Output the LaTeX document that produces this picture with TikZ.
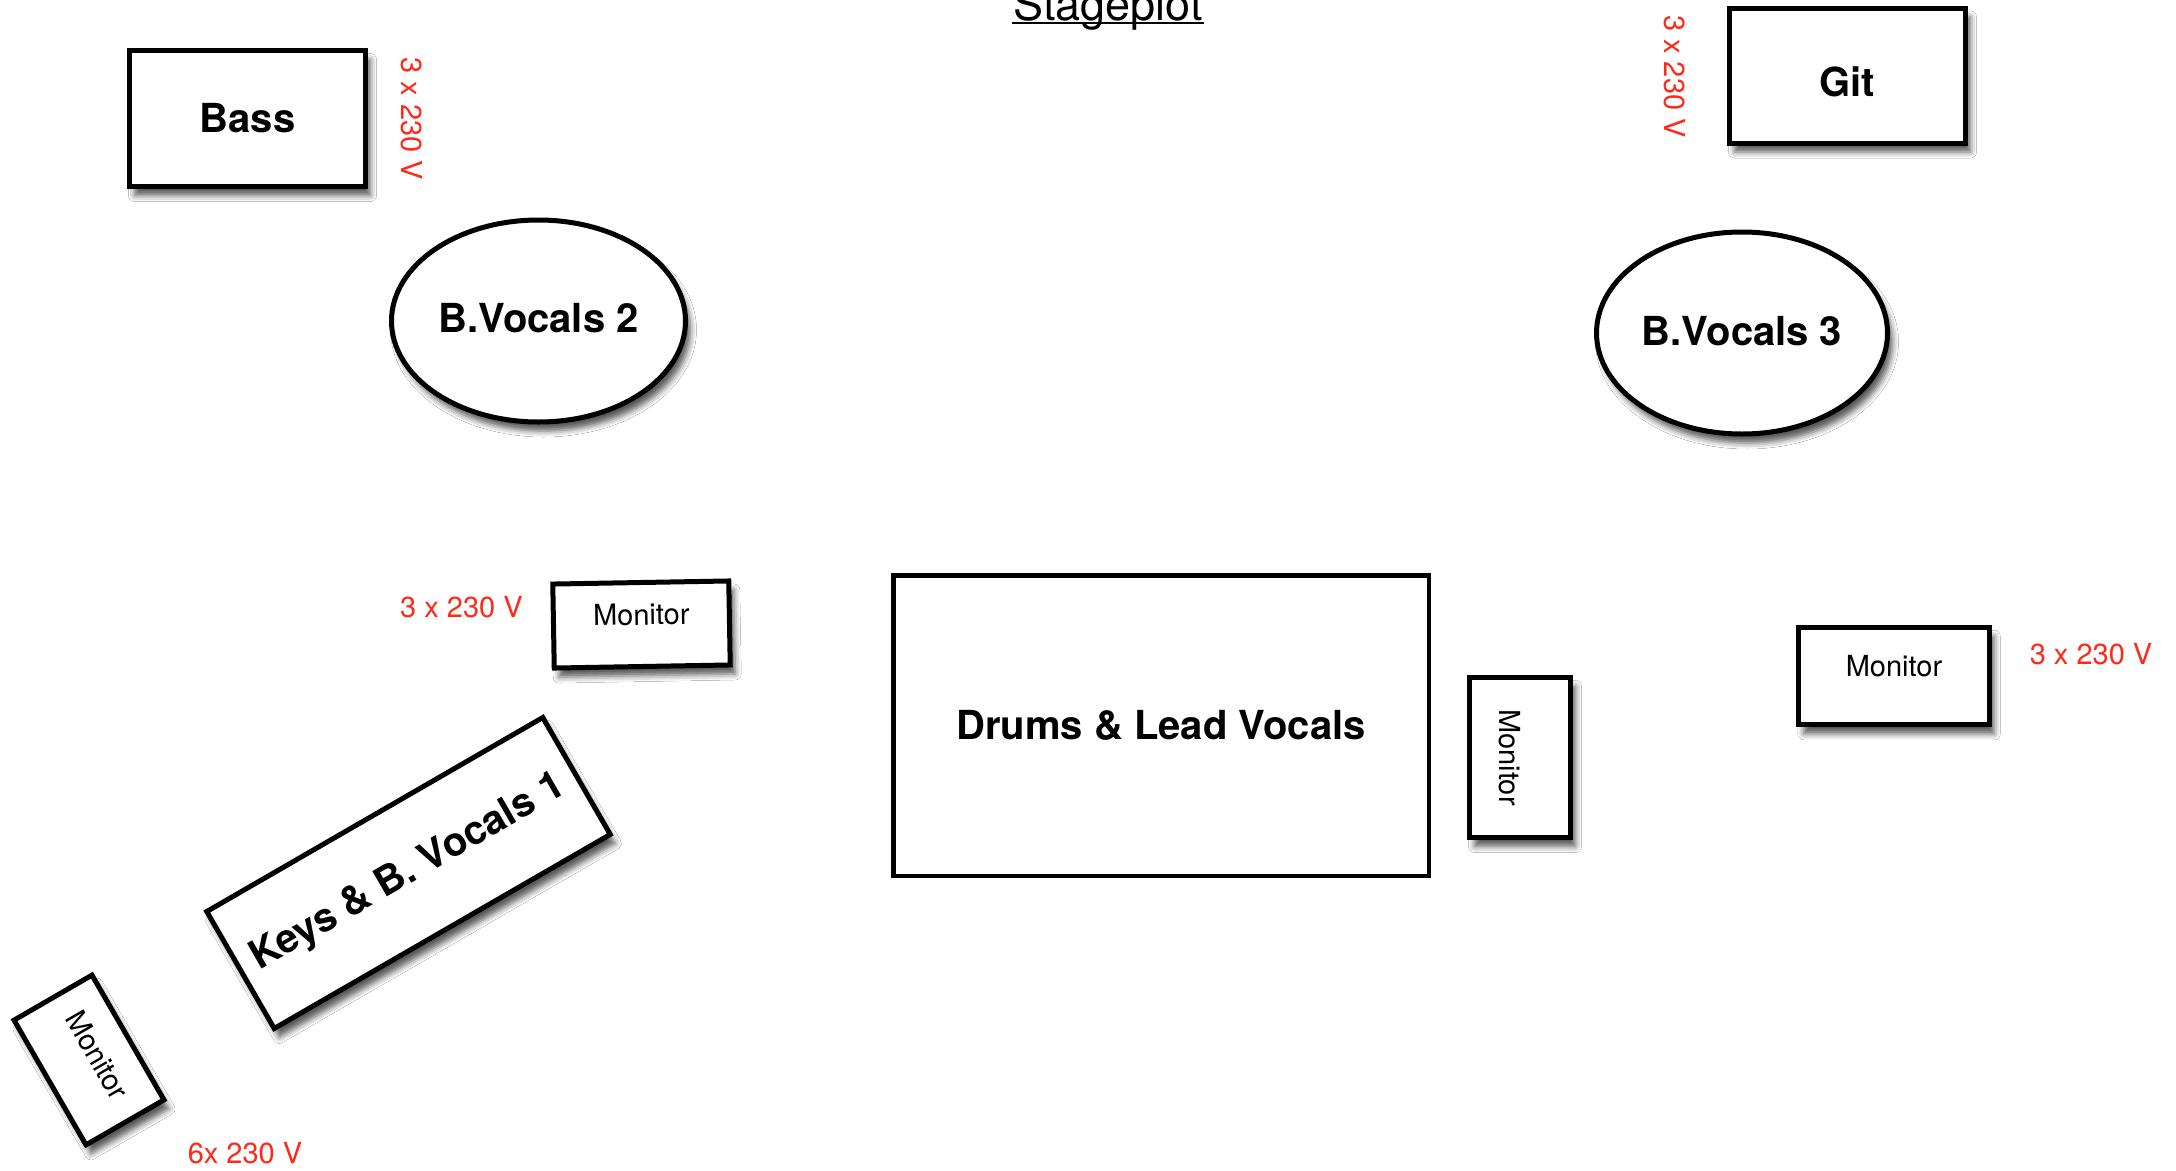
\documentclass[tikz,border=0pt]{standalone}
\usepackage{fontspec}
\setmainfont{TeX Gyre Heros}
\usetikzlibrary{shapes.geometric,shadows.blur}
\definecolor{plotred}{RGB}{255,40,25}
\tikzset{
  box/.style={draw=black, fill=white, line width=5pt, rectangle, inner sep=0pt,
    blur shadow={shadow xshift=5pt, shadow yshift=-9pt, shadow blur radius=6pt, shadow opacity=65}},
  oval/.style={box, ellipse},
  biglabel/.style={font=\fontsize{40}{45}\selectfont\bfseries},
  monlabel/.style={font=\fontsize{29}{33}\selectfont},
  power/.style={text=plotred, font=\fontsize{29}{33}\selectfont, inner sep=0pt},
  monbox/.style={box, monlabel, text depth=20pt},
}
\begin{document}
\begin{tikzpicture}[x=1pt, y=-1pt]
\fill[white] (0,0) rectangle (2176,1170);
\useasboundingbox (0,0) rectangle (2176,1170);

% title
\node[anchor=base, inner sep=0pt, font=\fontsize{45}{50}\selectfont] (title) at (1108,20) {Stageplot};
\draw[line width=2pt] ([yshift=-3.3pt,xshift=-1pt]title.base west) -- ([yshift=-3.3pt,xshift=1pt]title.base east);

% instruments
\node[box, biglabel, minimum width=236pt, minimum height=136pt] (bass) at (247.5,118.5) {Bass};
\node[power, rotate=-90] (pbass) at (411.5,119) {3 x 230 V};

\node[box, biglabel, text height=42pt, minimum width=236pt, minimum height=135pt] (git) at (1847.5,75.5) {Git};
\node[power, rotate=-90] (pgit) at (1675,76.5) {3 x 230 V};

\node[oval, biglabel, text depth=7pt, minimum width=294pt, minimum height=202pt] (bv2) at (538.5,321) {B.Vocals 2};
\node[oval, biglabel, text depth=5pt, minimum width=291pt, minimum height=202pt] (bv3) at (1742,333) {B.Vocals 3};

\node[draw=black, fill=white, line width=4.5pt, inner sep=0pt, biglabel,
      minimum width=535.5pt, minimum height=300.5pt] (drums) at (1161,725.5) {Drums \& Lead Vocals};

\node[box, biglabel, rotate=30, minimum width=388pt, minimum height=135pt] (keys) at (408.5,873) {Keys \& B. Vocals 1};

% monitors
\node[monbox, rotate=1, minimum width=176pt, minimum height=84pt] (mon1) at (641.5,624.5) {Monitor};
\node[power] (pmon1) at (461.5,607) {3 x 230 V};

\node[box, monlabel, rotate=-90, text height=41pt, minimum width=160pt, minimum height=101pt] (mon2) at (1520,757.5) {Monitor};

\node[monbox, minimum width=190.5pt, minimum height=97.5pt] (mon3) at (1894,676) {Monitor};
\node[power] (pmon3) at (2091,654) {3 x 230 V};

\node[monbox, rotate=-60, minimum width=144pt, minimum height=90pt] (mon4) at (89,1060) {Monitor};
\node[power] (pmon4) at (245,1153) {6x 230 V};
\end{tikzpicture}
\end{document}
